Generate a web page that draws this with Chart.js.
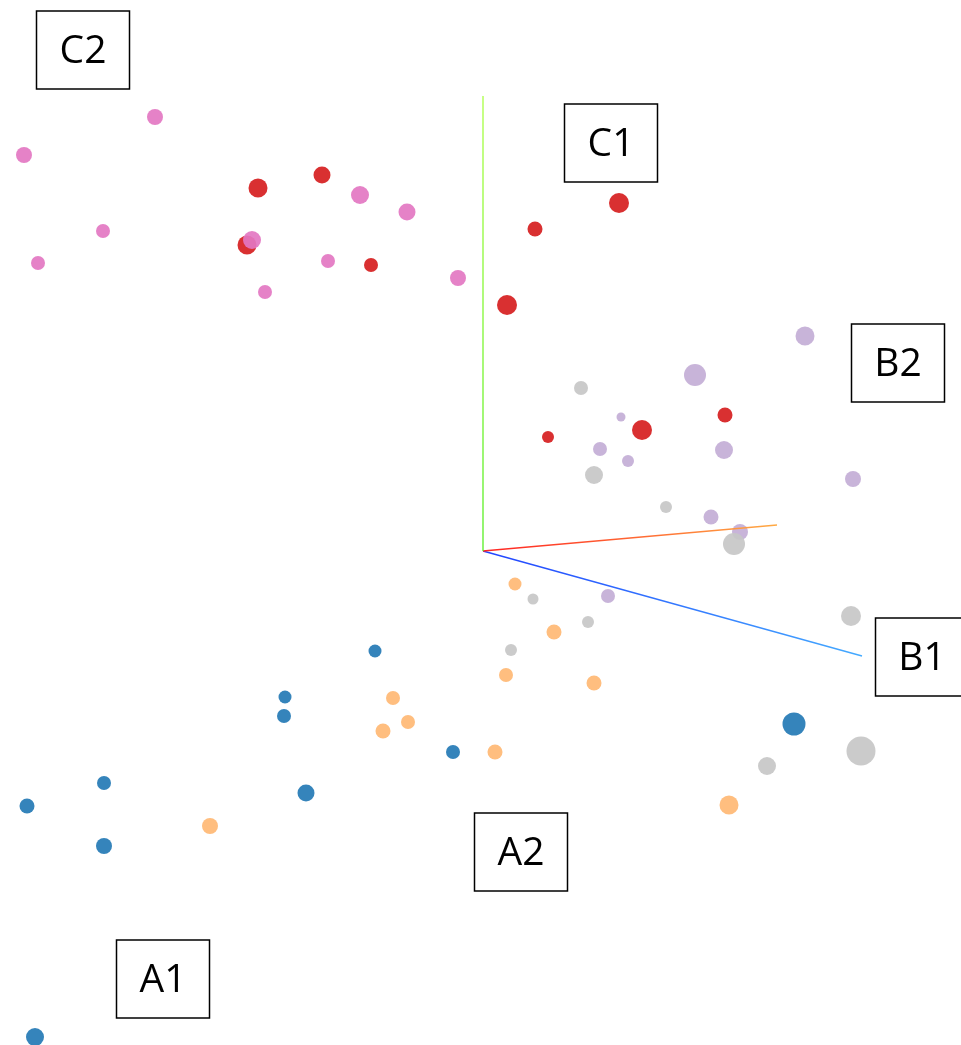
<!DOCTYPE html>
<html>
<head>
<meta charset="utf-8">
<style>
html,body{margin:0;padding:0;background:#fff;overflow:hidden;}
#wrap{position:absolute;left:0;top:0;width:961px;height:1045px;}
</style>
<script src="https://cdn.jsdelivr.net/npm/chart.js@4/dist/chart.umd.min.js"></script>
</head>
<body>
<div id="wrap"><canvas id="c"></canvas></div>
<script>
// Projected coordinates (screen-space units of the 3D view), y downward
const pinkX = [155, 24, 360, 407, 103, 252, 38, 328, 265, 458];
const pinkY = [117, 155, 195, 212, 231, 240, 263, 261, 292, 278];
const pinkS = [8, 8, 9, 8.5, 7, 9, 7, 7, 7, 8];

const redX = [258, 322, 247, 371, 535, 619, 507, 548, 642, 725];
const redY = [188, 175, 245, 265, 229, 203, 305, 437, 430, 415];
const redS = [9.5, 8.5, 9.5, 7, 7.5, 10, 10, 6, 10, 7.5];

const greyX = [581, 594, 666, 734, 533, 588, 511, 851, 767, 861];
const greyY = [388, 475, 507, 544, 599, 622, 650, 616, 766, 751];
const greyS = [7, 9, 6, 11, 5.5, 6, 6, 10, 9, 14.5];

const lavX = [805, 695, 621, 600, 628, 724, 853, 711, 740, 608];
const lavY = [336, 375, 417, 449, 461, 450, 479, 517, 532, 596];
const lavS = [9.5, 11, 4.5, 7, 6, 9, 8, 7.5, 8, 7];

const orangeX = [515, 554, 506, 594, 393, 408, 383, 495, 210, 729];
const orangeY = [584, 632, 675, 683, 698, 722, 731, 752, 826, 805];
const orangeS = [6.5, 7.5, 7, 7.5, 7, 7, 7.5, 7.5, 8, 9.5];

const blueX = [375, 285, 284, 453, 104, 27, 306, 104, 794, 35];
const blueY = [651, 697, 716, 752, 783, 806, 793, 846, 724, 1037];
const blueS = [6.5, 6.5, 7, 7, 7, 7.5, 8.5, 8, 11.5, 9];

// 3D axes: origin and tips
const axisOrigin = [483, 551];
const axisTipX = [777, 525];
const axisTipY = [483, 96];
const axisTipZ = [862, 656];

// Cluster labels and their centres
const labelText = ['C2', 'C1', 'B2', 'B1', 'A2', 'A1'];
const labelX = [83, 611, 898, 922, 521, 163];
const labelY = [50, 143, 363, 657, 852, 979];

function pts(xs, ys) { return xs.map((x, i) => ({x: x, y: ys[i]})); }

function gradColor(ctx, from, to, c1, c2) {
  const chart = ctx.chart;
  const xs = chart.scales.x, ys = chart.scales.y;
  if (!xs || !ys || !chart.chartArea) return c1;
  const x0 = xs.getPixelForValue(from[0]), y0 = ys.getPixelForValue(from[1]);
  const x1 = xs.getPixelForValue(to[0]), y1 = ys.getPixelForValue(to[1]);
  if (![x0, y0, x1, y1].every(Number.isFinite)) return c1;
  const g = chart.ctx.createLinearGradient(x0, y0, x1, y1);
  g.addColorStop(0, c1); g.addColorStop(1, c2);
  return g;
}

function scatterSet(xs, ys, sizes, color) {
  return {
    type: 'scatter',
    data: pts(xs, ys),
    pointRadius: sizes,
    pointHoverRadius: sizes,
    backgroundColor: color,
    borderWidth: 0,
    pointBorderWidth: 0,
    showLine: false,
    clip: false
  };
}

function axisSet(tip, c1, c2) {
  return {
    type: 'line',
    data: [{x: axisOrigin[0], y: axisOrigin[1]}, {x: tip[0], y: tip[1]}],
    borderColor: ctx => gradColor(ctx, axisOrigin, tip, c1, c2),
    borderWidth: 1.3,
    pointRadius: 0,
    fill: false,
    tension: 0
  };
}

const labelBoxes = {
  id: 'labelBoxes',
  afterDatasetsDraw(chart) {
    const c = chart.ctx, xs = chart.scales.x, ys = chart.scales.y;
    c.save();
    c.font = '39px "Open Sans", "Liberation Sans", sans-serif';
    c.textAlign = 'center';
    c.textBaseline = 'middle';
    labelText.forEach((t, i) => {
      const px = xs.getPixelForValue(labelX[i]);
      const py = ys.getPixelForValue(labelY[i]);
      c.fillStyle = '#ffffff';
      c.fillRect(px - 46.5, py - 39, 93, 78);
      c.strokeStyle = '#000000';
      c.lineWidth = 1.5;
      c.strokeRect(px - 46.5, py - 39, 93, 78);
      c.fillStyle = '#000000';
      c.fillText(t, px, py + 2);
    });
    c.restore();
  }
};

new Chart(document.getElementById('c'), {
  data: {
    datasets: [
      axisSet(axisTipY, '#55ee22', '#aaff44'),
      axisSet(axisTipX, '#ff2222', '#ffaa44'),
      axisSet(axisTipZ, '#2244ff', '#44aaff'),
      scatterSet(greyX, greyY, greyS, 'rgba(199,199,199,0.92)'),
      scatterSet(lavX, lavY, lavS, 'rgba(192,170,212,0.88)'),
      scatterSet(orangeX, orangeY, orangeS, 'rgba(255,187,120,0.95)'),
      scatterSet(blueX, blueY, blueS, 'rgba(31,119,180,0.9)'),
      scatterSet(pinkX, pinkY, pinkS, 'rgba(227,119,194,0.92)'),
      scatterSet(redX, redY, redS, 'rgba(214,30,32,0.92)')
    ]
  },
  options: {
    responsive: true,
    maintainAspectRatio: false,
    animation: false,
    layout: {padding: 0, autoPadding: false},
    plugins: {legend: {display: false}, tooltip: {enabled: false}},
    scales: {
      x: {type: 'linear', min: 0, max: 961, display: false},
      y: {type: 'linear', min: 0, max: 1045, reverse: true, display: false}
    }
  },
  plugins: [labelBoxes]
});
</script>
</body>
</html>
